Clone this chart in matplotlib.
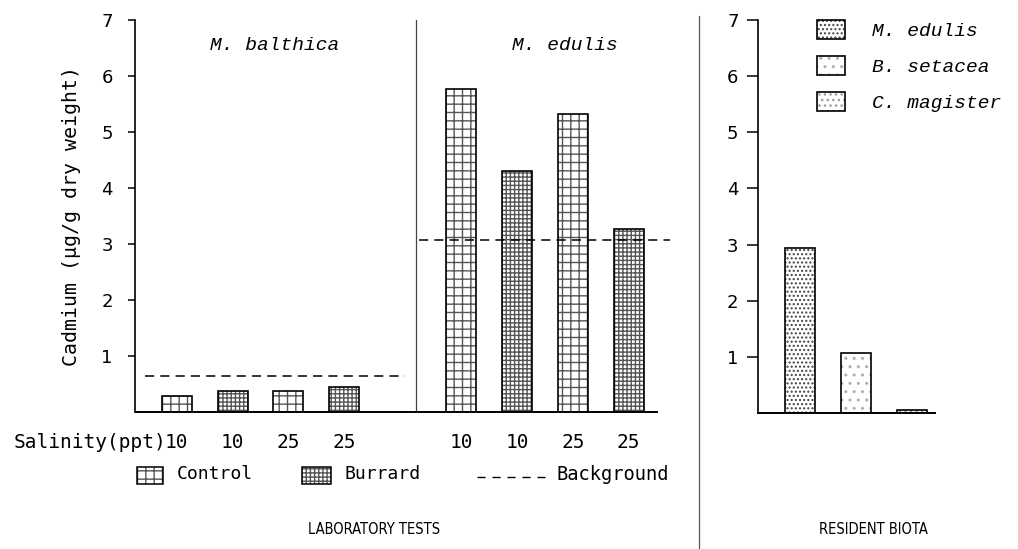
import matplotlib
matplotlib.use("Agg")
import matplotlib.pyplot as plt
from matplotlib.patches import Rectangle
from matplotlib.lines import Line2D
from matplotlib import font_manager
from matplotlib.font_manager import FontProperties

# Laboratory tests: cadmium (ug/g dry weight)
lab_species = ["M. balthica", "M. edulis"]
lab_salinity = ["10", "10", "25", "25"]
lab_treatment = ["Control", "Burrard", "Control", "Burrard"]
balthica_cd = [0.28, 0.38, 0.37, 0.45]
edulis_cd = [5.76, 4.30, 5.33, 3.26]
background_cd = [0.64, 3.07]

# Resident biota
resident_species = ["M. edulis", "B. setacea", "C. magister"]
resident_cd = [2.94, 1.07, 0.05]

y_ticks = [1, 2, 3, 4, 5, 6, 7]

W, H = 1018, 549
fig = plt.figure(figsize=(W / 100, H / 100), dpi=100)

mono = ['DejaVu Sans Mono']
typew = ['Liberation Mono', 'DejaVu Sans Mono']
sans = ['DejaVu Sans']


def narrow_font():
    """Pick a condensed upright regular face if one is installed."""
    condensed = ('condensed', 'semi-condensed', 'extra-condensed', 'ultra-condensed')
    best = None
    for f in font_manager.fontManager.ttflist:
        if f.style != 'normal' or f.weight not in (400, 'normal', 'regular'):
            continue
        if f.stretch in condensed or 'Condensed' in f.fname or 'Narrow' in f.fname:
            if best is None or f.name in ('DejaVu Sans', 'Noto Sans', 'Roboto'):
                best = f
    if best is not None:
        return FontProperties(fname=best.fname, size=10.5)
    return FontProperties(family='Roboto', size=9.5)


narrow_fp = narrow_font()


def px_rect(x0, y_top, x1, y_bot):
    return [x0 / W, 1 - y_bot / H, (x1 - x0) / W, (y_bot - y_top) / H]


hatch_for = {"Control": "++", "Burrard": "++++"}
hatch_grey = '#555555'
bar_w = 0.54


def hatched_bar(axis, pos, val, hatch, hcolor=hatch_grey):
    # hatch drawn in grey underneath a crisp black outline
    axis.bar(pos, val, width=bar_w, facecolor='white', edgecolor=hcolor,
             linewidth=0, hatch=hatch)
    axis.bar(pos, val, width=bar_w, facecolor='none', edgecolor='black', linewidth=1.2)


# ---- laboratory panel ----
ax = fig.add_axes(px_rect(135, 20, 670, 412))
ax.set_xlim(-0.75, 8.84)
ax.set_ylim(0, 7)
left_pos = [0, 1, 2, 3]
right_pos = [5.1, 6.1, 7.1, 8.1]
for pos, val, tr in zip(left_pos, balthica_cd, lab_treatment):
    hatched_bar(ax, pos, val, hatch_for[tr])
for pos, val, tr in zip(right_pos, edulis_cd, lab_treatment):
    hatched_bar(ax, pos, val, hatch_for[tr])

ax.hlines(background_cd[0], -0.57, 4.09, colors='black', linestyles=(0, (6, 4)), lw=1.1)
ax.hlines(background_cd[1], 4.34, 8.84, colors='black', linestyles=(0, (6, 4)), lw=1.1)
ax.axvline(4.29, ymin=0, ymax=1.0, color='#444444', lw=0.9)
ax.hlines(0, -0.75, 8.625, colors='black', lw=1.4, clip_on=False)

for s in ['top', 'right', 'bottom']:
    ax.spines[s].set_visible(False)
ax.spines['left'].set_linewidth(1.2)
ax.set_yticks(y_ticks)
ax.set_yticklabels([str(t) for t in y_ticks], fontfamily=sans, fontsize=13)
ax.tick_params(axis='y', length=5, width=1.1, pad=11)
ax.set_xticks(left_pos + right_pos)
ax.set_xticklabels(lab_salinity + lab_salinity, fontfamily=mono, fontsize=14)
ax.tick_params(axis='x', length=0, pad=15)
ax.set_ylabel("Cadmium (\u00b5g/g dry weight)", fontfamily=mono, fontsize=14.3, labelpad=14.5)

ax.text(1.75, 6.55, lab_species[0], fontfamily=typew, fontstyle='italic',
        fontsize=14, ha='center', va='center')
ax.text(6.95, 6.55, lab_species[1], fontfamily=typew, fontstyle='italic',
        fontsize=14, ha='center', va='center')

fig.text(166 / W, 1 - 442 / H, "Salinity(ppt)", fontfamily=mono, fontsize=14,
         ha='right', va='center')


# legend row for the laboratory panel
def fig_box(x0, y0, x1, y1, hatch):
    fig.patches.append(Rectangle((x0 / W, 1 - y1 / H), (x1 - x0) / W, (y1 - y0) / H,
                                 transform=fig.transFigure, facecolor='white',
                                 edgecolor=hatch_grey, lw=0, hatch=hatch))
    fig.patches.append(Rectangle((x0 / W, 1 - y1 / H), (x1 - x0) / W, (y1 - y0) / H,
                                 transform=fig.transFigure, facecolor='none',
                                 edgecolor='black', lw=1.1))


fig_box(137, 467, 163, 484, hatch_for["Control"])
fig.text(177 / W, 1 - 474 / H, "Control", fontfamily=mono, fontsize=13, va='center')
fig_box(302, 467, 331, 484, hatch_for["Burrard"])
fig.text(345 / W, 1 - 474 / H, "Burrard", fontfamily=mono, fontsize=13, va='center')
fig.lines.append(Line2D([477 / W, 545 / W], [1 - 477 / H, 1 - 477 / H],
                        transform=fig.transFigure, color='black', lw=1.0,
                        linestyle=(0, (5.8, 5.0))))
fig.text(556 / W, 1 - 474 / H, "Background", fontfamily=mono, fontsize=13.5, va='center')

fig.text(374 / W, 1 - 529 / H, "LABORATORY TESTS", fontproperties=narrow_fp,
         ha='center', va='center')

# separator between panels
fig.lines.append(Line2D([699 / W, 699 / W], [1 - 16 / H, 0], transform=fig.transFigure,
                        color='#555555', lw=0.9))

# ---- resident biota panel ----
ax2 = fig.add_axes(px_rect(758, 20, 935, 413))
ax2.set_xlim(-0.75, 2.41)
ax2.set_ylim(0, 7)
res_hatch = ["....", "..", "..."]
res_hcolor = ['#444444', '#b0b0b0', '#9a9a9a']
for i, (val, h, hc) in enumerate(zip(resident_cd, res_hatch, res_hcolor)):
    hatched_bar(ax2, i, val, h, hcolor=hc)
for s in ['top', 'right']:
    ax2.spines[s].set_visible(False)
ax2.spines['left'].set_linewidth(1.2)
ax2.spines['bottom'].set_linewidth(1.4)
ax2.set_yticks(y_ticks)
ax2.set_yticklabels([str(t) for t in y_ticks], fontfamily=sans, fontsize=13)
ax2.tick_params(axis='y', length=8, width=1.1, pad=6)
ax2.set_xticks([])

handles = [Rectangle((0, 0), 1, 1, facecolor='white', edgecolor=hc, hatch=h, lw=0)
           for h, hc in zip(res_hatch, res_hcolor)]
outlines = [Rectangle((0, 0), 1, 1, facecolor='none', edgecolor='black', lw=1.2)
            for _ in res_hatch]
fig.legend([(h, o) for h, o in zip(handles, outlines)], resident_species,
           loc='upper left', bbox_to_anchor=(817 / W, 1 - 20 / H),
           bbox_transform=fig.transFigure, frameon=False, borderpad=0, borderaxespad=0,
           prop={'family': typew, 'style': 'italic', 'size': 14},
           handlelength=1.45, handleheight=1.15, handletextpad=1.4, labelspacing=0.8)
fig.text(873 / W, 1 - 529 / H, "RESIDENT BIOTA", fontproperties=narrow_fp,
         ha='center', va='center')

fig.savefig("out.png", dpi=100)
